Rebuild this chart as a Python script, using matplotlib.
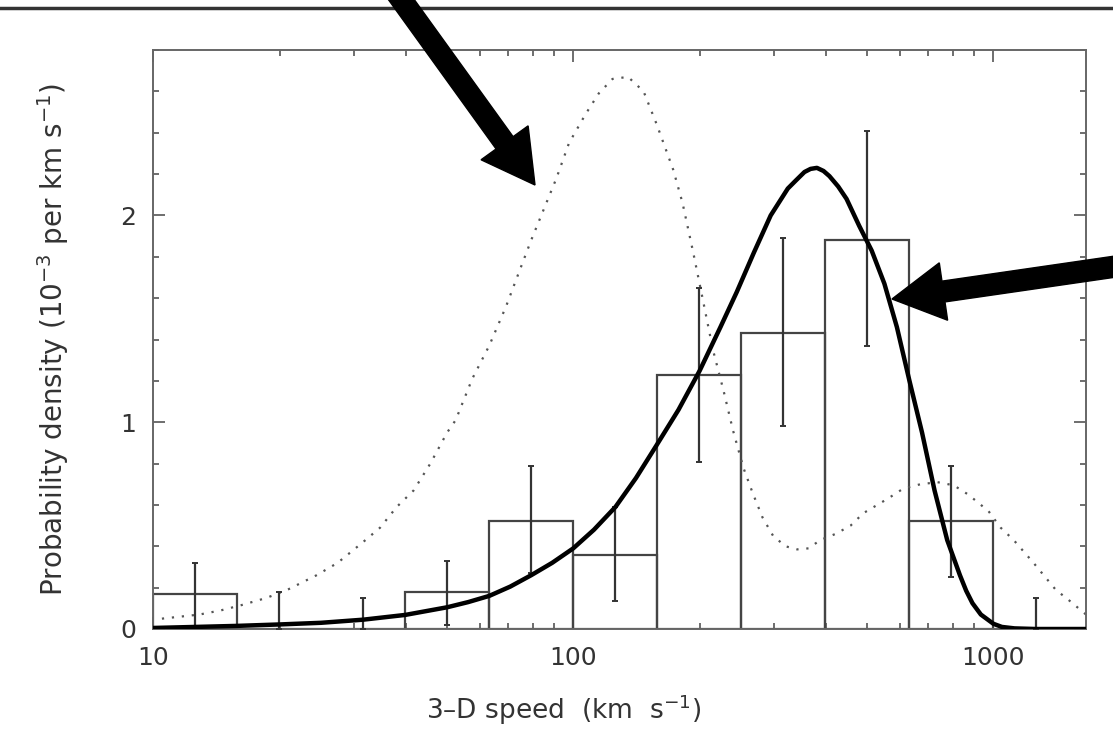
import numpy as np
import matplotlib.pyplot as plt
from matplotlib.patches import FancyArrow
from matplotlib.lines import Line2D
from matplotlib.transforms import IdentityTransform
from matplotlib.ticker import LogLocator, MultipleLocator, NullFormatter

# histogram of 3-D speeds (0.2 dex bins)
bin_edges = [10, 15.85, 25.12, 39.81, 63.10, 100, 158.5, 251.2, 398.1, 631.0, 1000, 1585]
density = [0.17, 0, 0, 0.18, 0.52, 0.36, 1.23, 1.43, 1.88, 0.52, 0]
bin_centres = [12.6, 19.95, 31.6, 50.1, 79.4, 125.9, 199.5, 316.2, 501.2, 794.3, 1259]
err_low = [0.01, 0, 0, 0.02, 0.27, 0.135, 0.81, 0.98, 1.37, 0.25, 0]
err_high = [0.32, 0.18, 0.15, 0.33, 0.79, 0.59, 1.65, 1.89, 2.41, 0.79, 0.15]

# solid model curve
solid_v = [10, 12.6, 15.8, 20, 25.1, 31.6, 39.8, 50.1, 56.2, 63.1, 70.8, 79.4, 89.1,
           100, 112, 126, 141, 158, 178, 200, 224, 245, 269, 295, 324, 339, 355,
           367, 380, 394, 407, 427, 447, 479, 513, 550, 589, 631, 676, 724, 776,
           832, 861, 891, 933, 977, 1000, 1047, 1122, 1259, 1660]
solid_p = [0.005, 0.01, 0.015, 0.022, 0.03, 0.045, 0.068, 0.105, 0.13, 0.16, 0.205,
           0.26, 0.32, 0.39, 0.48, 0.59, 0.73, 0.89, 1.06, 1.25, 1.46, 1.63, 1.82,
           2.00, 2.13, 2.17, 2.21, 2.225, 2.23, 2.215, 2.19, 2.14, 2.08, 1.95, 1.83,
           1.67, 1.46, 1.20, 0.95, 0.67, 0.43, 0.26, 0.185, 0.125, 0.07, 0.04,
           0.025, 0.01, 0.003, 0.0, 0.0]

# dotted model curve
dotted_v = [10.5, 12.9, 14.5, 16.2, 18.6, 20.9, 24.5, 27.5, 31.6, 34.7, 38.0, 41.7,
            45.7, 50.1, 52.5, 57.5, 63.1, 69.2, 74.1, 79.4, 85.1, 91.2, 97.7, 107,
            115, 124, 135, 147, 158, 173, 182, 193, 204, 215, 228, 240, 254, 267,
            282, 299, 320, 341, 363, 387, 421, 457, 490, 560, 611, 670, 736, 804,
            871, 973, 1040, 1117, 1245, 1406, 1510, 1660]
dotted_p = [0.05, 0.07, 0.09, 0.115, 0.15, 0.19, 0.26, 0.32, 0.42, 0.49, 0.59, 0.67,
            0.80, 0.95, 1.01, 1.21, 1.37, 1.56, 1.72, 1.88, 2.03, 2.18, 2.35, 2.49,
            2.59, 2.66, 2.67, 2.60, 2.44, 2.22, 2.06, 1.82, 1.58, 1.35, 1.15, 0.96,
            0.78, 0.66, 0.54, 0.45, 0.40, 0.385, 0.39, 0.43, 0.46, 0.50, 0.56, 0.63,
            0.68, 0.70, 0.71, 0.695, 0.65, 0.57, 0.49, 0.43, 0.32, 0.19, 0.14, 0.07]

fig = plt.figure(figsize=(11.13, 7.55), dpi=100)
ax = fig.add_axes([153/1113, 1 - 629/755, (1086 - 153)/1113, (629 - 50)/755])

grey = '#444444'
widths = np.diff(bin_edges)
ax.bar(bin_edges[:-1], density, width=widths, align='edge', fill=False,
       edgecolor=grey, linewidth=1.6, zorder=2)

dens = np.array(density)
yerr = [dens - np.array(err_low), np.array(err_high) - dens]
ax.errorbar(bin_centres, density, yerr=yerr, fmt='none', ecolor='#333333',
            elinewidth=1.6, capsize=2, capthick=1.4, zorder=3)

ax.plot(dotted_v, dotted_p, color='#555555', linestyle=(0, (1, 3.5)), linewidth=1.6, zorder=2)
ax.plot(solid_v, solid_p, color='black', linewidth=3.2, zorder=4,
        solid_joinstyle='round', solid_capstyle='round')

ax.set_xscale('log')
ax.set_xlim(10, 1660)
ax.set_ylim(0, 2.8)
ax.set_xticks([10, 100, 1000])
ax.set_xticklabels(['10', '100', '1000'])
ax.xaxis.set_minor_locator(LogLocator(subs=range(2, 10)))
ax.xaxis.set_minor_formatter(NullFormatter())
ax.set_yticks([0, 1, 2])
ax.set_yticklabels(['0', '1', '2'])
ax.yaxis.set_minor_locator(MultipleLocator(0.2))

ax.tick_params(which='both', direction='in', top=True, right=True, color='#555555', width=1.2)
ax.tick_params(which='major', length=8.5, pad=12, labelsize=18, labelcolor='#333333')
ax.tick_params(which='minor', length=4.5)
for s in ax.spines.values():
    s.set_color('#666666')
    s.set_linewidth(1.4)

ax.set_xlabel('3\u2013D speed  (km  s$^{-1}$)', fontsize=19, color='#333333')
ax.set_ylabel('Probability density (10$^{-3}$ per km s$^{-1}$)', fontsize=20, color='#333333')
ax.xaxis.set_label_coords(0.44, -0.11)
ax.yaxis.set_label_coords(-0.088, 0.5)

# border line along the top of the image
fig.add_artist(Line2D([0, 1], [1 - 8/755, 1 - 8/755], transform=fig.transFigure,
                      color='#333333', linewidth=2.5))

# the two big pointer arrows (pixel coordinates, origin bottom-left)
arrows = [((380, 785), (535, 570)), ((1140, 492), (892, 456))]
for (x0, y0), (x1, y1) in arrows:
    fig.add_artist(FancyArrow(x0, y0, x1 - x0, y1 - y0, width=21, head_width=58,
                              head_length=52, length_includes_head=True,
                              transform=IdentityTransform(), color='black', zorder=10))

plt.savefig('out.png', dpi=100)
plt.close()
